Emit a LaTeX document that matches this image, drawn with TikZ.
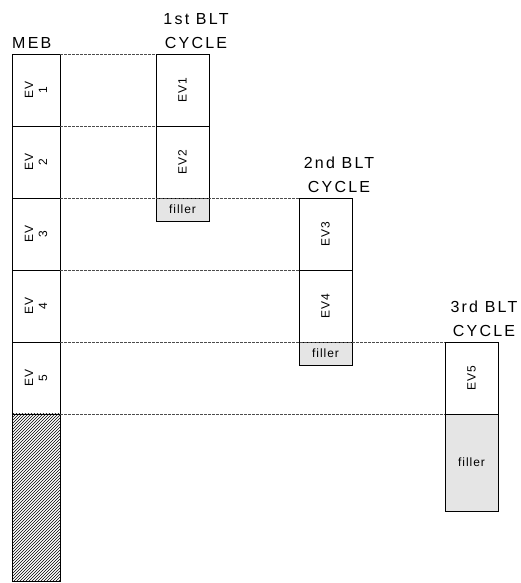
\documentclass[tikz,border=0pt]{standalone}
\usepackage{fontspec}
\setmainfont{Liberation Sans}
\newfontfamily\spaced[LetterSpace=14]{Liberation Sans}
\newfontfamily\evfont[LetterSpace=8]{Liberation Sans}
\newfontfamily\filfont[LetterSpace=8]{Liberation Sans}
\usetikzlibrary{patterns}
\begin{document}
\begin{tikzpicture}[x=1pt,y=1pt,
  cell/.style={draw=black,line width=0.7pt,inner sep=0pt,outer sep=0pt,minimum width=#1},
  cell/.default=48pt,
  evbox/.style={cell=53pt,minimum height=72pt},
  mebbox/.style={cell=48pt,minimum height=72pt},
  fill23/.style={cell=53pt,minimum height=23pt,fill=black!10},
  small/.style={font=\filfont\fontsize{12}{13}\selectfont},
  lab/.style={rotate=90,align=center,font=\evfont\fontsize{12}{14}\selectfont},
  title/.style={font=\spaced\fontsize{16}{19}\selectfont,inner sep=0pt,anchor=base},
  guide/.style={draw=black!70,line width=0.5pt,dash pattern=on 2.5pt off 1.5pt}]
\useasboundingbox (0,0) rectangle (520,583);
% MEB column
\node[mebbox] (m1) at (36,493) {};
\node[mebbox] (m2) at (36,421) {};
\node[mebbox] (m3) at (36,349) {};
\node[mebbox] (m4) at (36,277) {};
\node[mebbox] (m5) at (36,205) {};
\node[cell=48pt,minimum height=167pt,pattern=north east lines] (m6) at (36,85.5) {};
\node[lab] at (m1) {EV\\1};
\node[lab] at (m2) {EV\\2};
\node[lab] at (m3) {EV\\3};
\node[lab] at (m4) {EV\\4};
\node[lab] at (m5) {EV\\5};
% 1st cycle
\node[evbox] (a1) at (182.5,493) {};
\node[evbox] (a2) at (182.5,421) {};
\node[fill23,small] (af) at (182.5,373.5) {filler};
\node[lab] at (a1) {EV1};
\node[lab] at (a2) {EV2};
% 2nd cycle
\node[evbox] (b3) at (325.5,349) {};
\node[evbox] (b4) at (325.5,277) {};
\node[fill23,small] (bf) at (325.5,229.5) {filler};
\node[lab] at (b3) {EV3};
\node[lab] at (b4) {EV4};
% 3rd cycle
\node[evbox] (c5) at (471.5,205) {};
\node[cell=53pt,minimum height=97pt,fill=black!10,small] (cf) at (471.5,120.5) {filler};
\node[lab] at (c5) {EV5};
% titles
\node[title,anchor=base west] (tm) at (12,534) {MEB};
\node[title] (t1a) at (196,558) {1st BLT};
\node[title] (t1b) at (196,534) {CYCLE};
\node[title] (t2a) at (339,414) {2nd BLT};
\node[title] (t2b) at (339,390) {CYCLE};
\node[title] (t3a) at (484,270) {3rd BLT};
\node[title] (t3b) at (484,246) {CYCLE};
% guides
\draw[guide] (m1.north east) -- (a1.north west);
\draw[guide] (m2.north east) -- (a2.north west);
\draw[guide] (m3.north east) -- (b3.north west);
\draw[guide] (m4.north east) -- (b4.north west);
\draw[guide] (m5.north east) -- (c5.north west);
\draw[guide] (m6.north east) -- (cf.north west);
\end{tikzpicture}
\end{document}
